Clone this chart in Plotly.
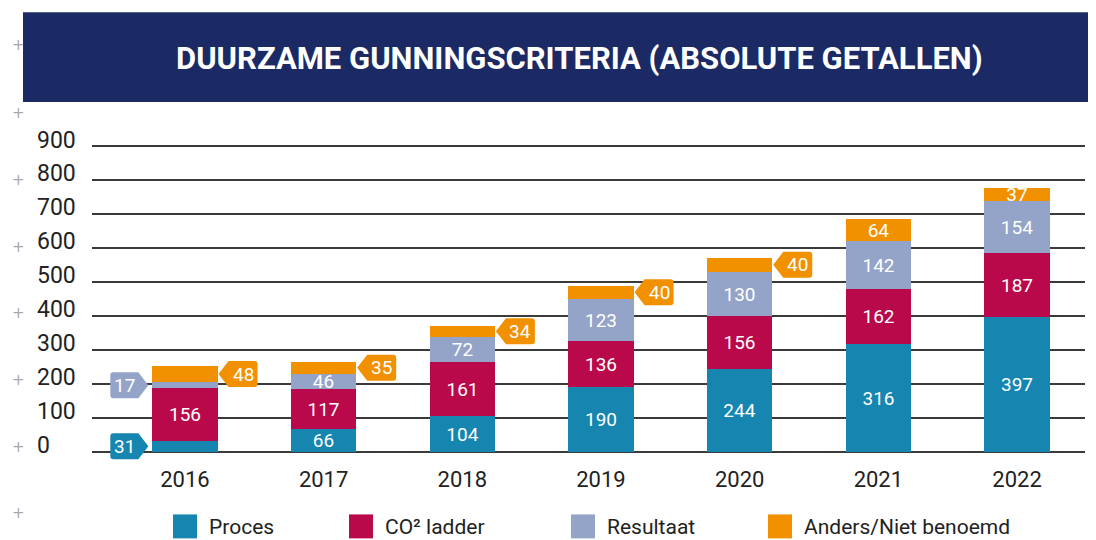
import plotly.graph_objects as go

# ---- data ----
years = ["2016", "2017", "2018", "2019", "2020", "2021", "2022"]
proces = [31, 66, 104, 190, 244, 316, 397]
co2_ladder = [156, 117, 161, 136, 156, 162, 187]
resultaat = [17, 46, 72, 123, 130, 142, 154]
anders = [48, 35, 34, 40, 40, 64, 37]
series_names = ["Proces", "CO² ladder", "Resultaat", "Anders/Niet benoemd"]
y_ticks = [0, 100, 200, 300, 400, 500, 600, 700, 800, 900]
title_text = "DUURZAME GUNNINGSCRITERIA (ABSOLUTE GETALLEN)"

# ---- style ----
colors = ["#1686b0", "#b9094a", "#94a3c8", "#f29100"]
# values shown as callout tags next to the bar: (series index, year index, side)
tags = [(0, 0, "left"), (2, 0, "left"), (3, 0, "right"), (3, 1, "right"),
        (3, 2, "right"), (3, 3, "right"), (3, 4, "right")]
legend_symbol_x = [173, 349, 571, 768]   # screen px
legend_text_x = [207, 383, 605, 802]     # screen px

OFF = 8                       # default page body margin
W, H = 1096 - OFF, 540 - OFF  # figure size fitting the window
PLOT_L, PLOT_R = 92, 1085     # screen px
PLOT_T, PLOT_B = 145, 460.5   # screen px
L, R = PLOT_L - OFF, W - (PLOT_R - OFF)
T, B = PLOT_T - OFF, H - (PLOT_B - OFF)
PW, PH = W - L - R, H - T - B
BAR_W = 0.47
FONT = "Roboto"
TXT = "#222222"


def px_x(px):
    """screen x pixel -> paper fraction"""
    return (px - PLOT_L) / PW


def px_y(py):
    """screen y pixel -> paper fraction"""
    return (PLOT_B - py) / PH


series = [proces, co2_ladder, resultaat, anders]
xs = list(range(len(years)))
tagged = {(s, i) for s, i, _ in tags}

fig = go.Figure()
for s, (name, vals, col) in enumerate(zip(series_names, series, colors)):
    text = ["" if (s, i) in tagged else str(v) for i, v in enumerate(vals)]
    fig.add_trace(go.Bar(
        x=xs, y=vals, name=name, width=BAR_W,
        marker=dict(color=col, line=dict(width=0)),
        text=text, textposition="inside", insidetextanchor="middle",
        textangle=0, cliponaxis=False,
        textfont=dict(family=FONT, size=19, color="white"),
        hoverinfo="skip", showlegend=False,
    ))

shapes = []
annotations = []

# banner
shapes.append(dict(type="rect", xref="paper", yref="paper",
                   x0=px_x(23), x1=px_x(1088), y0=px_y(102), y1=px_y(12),
                   fillcolor="#1b2a64", line=dict(width=0), layer="below"))
annotations.append(dict(xref="paper", yref="paper", x=px_x(579), y=px_y(58),
                        text=title_text, showarrow=False,
                        xanchor="center", yanchor="middle",
                        font=dict(family=FONT, size=31,
                                  color="white", weight="bold")))

# callout tags
RIGHT_PATH = "M1,0 L11,13 L37,13 Q40,13 40,10 L40,-10 Q40,-13 37,-13 L11,-13 Z"
LEFT_PATH = "M-4,0 L-14,13 L-39,13 Q-42,13 -42,10 L-42,-10 Q-42,-13 -39,-13 L-14,-13 Z"
for s, i, side in tags:
    base = sum(series[k][i] for k in range(s))
    mid = base + series[s][i] / 2
    if side == "right":
        ax, path, shift = i + BAR_W / 2, RIGHT_PATH, 25.5
    else:
        ax, path, shift = i - BAR_W / 2, LEFT_PATH, -28
    shapes.append(dict(type="path", xref="x", yref="y",
                       xsizemode="pixel", ysizemode="pixel",
                       xanchor=ax, yanchor=mid, path=path,
                       fillcolor=colors[s], line=dict(width=0), layer="above"))
    annotations.append(dict(xref="x", yref="y", x=ax, y=mid, xshift=shift,
                            text=str(series[s][i]), showarrow=False,
                            xanchor="center", yanchor="middle",
                            font=dict(family=FONT, size=19, color="white")))

# y tick labels (left-aligned, sitting slightly above their gridline)
for v in y_ticks:
    annotations.append(dict(xref="paper", yref="y", x=0, y=v, xshift=-57,
                            yshift=6, text=str(v), showarrow=False,
                            xanchor="left", yanchor="middle",
                            font=dict(family=FONT, size=23, color=TXT)))

# legend
for name, col, sx, tx in zip(series_names, colors, legend_symbol_x, legend_text_x):
    shapes.append(dict(type="rect", xref="paper", yref="paper",
                       x0=px_x(sx), x1=px_x(sx + 24), y0=px_y(539), y1=px_y(515),
                       fillcolor=col, line=dict(width=0)))
    annotations.append(dict(xref="paper", yref="paper", x=px_x(tx), y=px_y(528),
                            text=name, showarrow=False,
                            xanchor="left", yanchor="middle",
                            font=dict(family=FONT, size=21, color=TXT)))

# crop marks along the left edge
for py in [45, 113, 180, 247, 313, 380, 447, 514]:
    annotations.append(dict(xref="paper", yref="paper", x=px_x(18), y=px_y(py),
                            text="+", showarrow=False,
                            xanchor="center", yanchor="middle",
                            font=dict(family="DejaVu Sans", size=15,
                                      color="#a8a8a8")))

fig.update_layout(
    width=W, height=H,
    margin=dict(l=L, r=R, t=T, b=B, autoexpand=False),
    paper_bgcolor="white", plot_bgcolor="white",
    barmode="stack", bargap=0,
    showlegend=False,
    uniformtext=dict(minsize=19, mode="show"),
    shapes=shapes, annotations=annotations,
    xaxis=dict(range=[-0.67, 6.49], tickmode="array", tickvals=xs,
               ticktext=years, showgrid=False, zeroline=False,
               showline=False, ticks="", ticklabelstandoff=4,
               tickfont=dict(family=FONT, size=22, color=TXT)),
    yaxis=dict(range=[-25, 903], tickmode="array", tickvals=y_ticks,
               showticklabels=False, showgrid=True, gridcolor="#3a3a3a",
               gridwidth=1.5, zeroline=True, zerolinecolor="#3a3a3a",
               zerolinewidth=1.5, showline=False),
)

fig.write_html("out.html")
